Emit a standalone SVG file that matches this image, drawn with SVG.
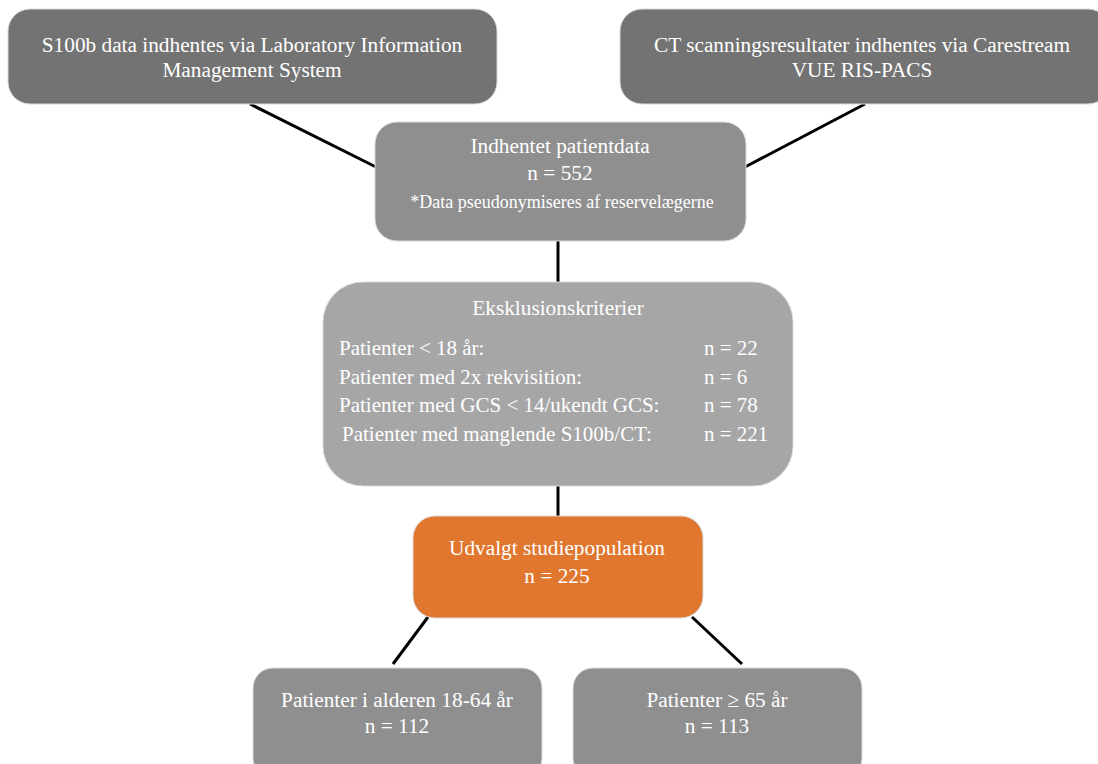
<svg xmlns="http://www.w3.org/2000/svg" width="1098" height="764" viewBox="0 0 1098 764">
<style>
text{font-family:"Liberation Serif","Times New Roman",serif;fill:#ffffff;}
.c{text-anchor:middle;}
.f20{font-size:21.3px;}
.f19{font-size:21px;}
.f15{font-size:18px;}
.box{stroke:#d9d9d9;stroke-width:1;}
.dark{fill:#737373;}
.mid{fill:#8f8f8f;}
.light{fill:#a6a6a6;}
.orange{fill:#e1772f;}
.conn line{stroke:#000000;stroke-width:3;}
</style>
<rect width="1098" height="764" fill="#ffffff"/>
<g class="conn" id="connectors">
<line x1="250" y1="104" x2="376" y2="167"/>
<line x1="865" y1="104" x2="745" y2="167"/>
<line x1="558" y1="240" x2="558" y2="283"/>
<line x1="558" y1="485" x2="558" y2="517"/>
<line x1="428" y1="617" x2="393" y2="664"/>
<line x1="692" y1="617" x2="742" y2="664"/>
</g>
<g id="node-s100b">
<rect class="box dark" x="8" y="9" width="489" height="95" rx="22"/>
<text class="c f20" x="252" y="52">S100b data indhentes via Laboratory Information</text>
<text class="c f20" x="252" y="77">Management System</text>
</g>
<g id="node-ct">
<rect class="box dark" x="620" y="9" width="490" height="95" rx="22"/>
<text class="c f20" x="862" y="52">CT scanningsresultater indhentes via Carestream</text>
<text class="c f20" x="862" y="77">VUE RIS-PACS</text>
</g>
<g id="node-indhentet">
<rect class="box mid" x="375" y="122" width="371" height="119" rx="22"/>
<text class="c f20" x="560" y="153">Indhentet patientdata</text>
<text class="c f20" x="560" y="180">n = 552</text>
<text class="c f15" x="562" y="208">*Data pseudonymiseres af reservelægerne</text>
</g>
<g id="node-eksklusion">
<rect class="box light" x="323" y="282" width="470" height="204" rx="40"/>
<text class="c f20" x="558" y="315">Eksklusionskriterier</text>
<text class="f19" x="339" y="355">Patienter &lt; 18 år:</text>
<text class="f19" x="704" y="355">n = 22</text>
<text class="f19" x="339" y="384">Patienter med 2x rekvisition:</text>
<text class="f19" x="704" y="384">n = 6</text>
<text class="f19" x="339" y="412">Patienter med GCS &lt; 14/ukendt GCS:</text>
<text class="f19" x="704" y="412">n = 78</text>
<text class="f19" x="342" y="441">Patienter med manglende S100b/CT:</text>
<text class="f19" x="704" y="441">n = 221</text>
</g>
<g id="node-udvalgt">
<rect class="box orange" x="413" y="516" width="290" height="102" rx="22"/>
<text class="c f20" x="557" y="555">Udvalgt studiepopulation</text>
<text class="c f20" x="557" y="583">n = 225</text>
</g>
<g id="node-18-64">
<rect class="box mid" x="253" y="668" width="289" height="110" rx="20"/>
<text class="c f20" x="397" y="707">Patienter i alderen 18-64 år</text>
<text class="c f20" x="397" y="733">n = 112</text>
</g>
<g id="node-65">
<rect class="box mid" x="573" y="668" width="289" height="110" rx="20"/>
<text class="c f20" x="717" y="707">Patienter ≥ 65 år</text>
<text class="c f20" x="717" y="733">n = 113</text>
</g>
</svg>
